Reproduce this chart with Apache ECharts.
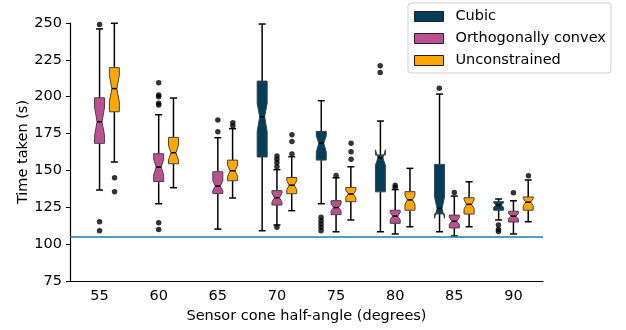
<!DOCTYPE html>
<html>
<head>
<meta charset="utf-8">
<script src="https://cdn.jsdelivr.net/npm/echarts@6/dist/echarts.min.js"></script>
<style>
  html, body { margin: 0; padding: 0; background: #fff; }
  #chart { width: 626px; height: 330px; }
</style>
</head>
<body>
<div id="chart"></div>
<script>
const categories = ['55', '60', '65', '70', '75', '80', '85', '90'];
const yTicks = [75, 100, 125, 150, 175, 200, 225, 250];
const referenceTime = 105;

// [category index, whisker low, q1, notch low, median, notch high, q3, whisker high]
const cubicBoxes = [
  [3, 109.1, 159.1, 176.3, 186.4, 195.5, 210.6, 249.3],
  [4, 127.4, 157.0, 162.5, 168.4, 173.5, 176.5, 197.3],
  [5, 108.4, 135.5, 153.5, 158.5, 164.0, 160.5, 183.5],
  [6, 108.4, 120.5, 117.5, 124.3, 132.0, 154.1, 201.8],
  [7, 116.4, 123.0, 125.0, 126.5, 128.0, 128.8, 130.6]
];
const orthoBoxes = [
  [0, 136.7, 168.4, 173.5, 183.0, 193.0, 199.3, 246.0],
  [1, 127.4, 142.5, 147.0, 152.3, 157.5, 161.3, 187.8],
  [2, 110.2, 134.3, 136.2, 139.4, 143.0, 149.1, 172.2],
  [3, 113.0, 126.5, 128.5, 131.5, 134.5, 136.3, 150.5],
  [4, 108.4, 120.0, 122.5, 124.8, 127.3, 129.5, 145.0],
  [5, 106.9, 114.1, 116.5, 119.0, 121.5, 123.0, 137.0],
  [6, 105.5, 111.0, 113.5, 115.5, 118.0, 119.7, 132.6],
  [7, 106.9, 115.0, 117.0, 119.0, 121.0, 122.3, 129.4]
];
const unconBoxes = [
  [0, 155.7, 189.8, 196.5, 205.5, 214.5, 219.7, 249.8],
  [1, 138.3, 154.5, 157.0, 162.0, 167.0, 172.4, 199.1],
  [2, 131.3, 143.0, 146.0, 149.8, 153.5, 157.0, 178.3],
  [3, 122.7, 134.2, 137.0, 140.0, 143.0, 145.2, 159.3],
  [4, 116.4, 128.8, 131.5, 134.0, 136.5, 138.5, 152.5],
  [5, 111.8, 123.0, 127.0, 130.0, 133.0, 135.6, 151.4],
  [6, 111.8, 120.4, 124.0, 127.0, 130.0, 131.5, 142.3],
  [7, 115.2, 123.0, 126.0, 128.5, 131.0, 132.0, 143.5]
];

// [category index, value]
const cubicOutliers = [
  [4, 118.2], [4, 115.9], [4, 113.6], [4, 111.4], [4, 109.1],
  [5, 221.0], [5, 216.5],
  [6, 205.7],
  [7, 113.0], [7, 110.0], [7, 108.5]
];
const orthoOutliers = [
  [0, 248.9], [0, 115.2], [0, 109.1],
  [1, 209.5], [1, 201.2], [1, 200.0], [1, 195.5], [1, 194.4], [1, 114.5], [1, 110.0],
  [2, 184.2], [2, 176.3],
  [3, 159.8], [3, 157.5], [3, 155.2], [3, 152.5], [3, 111.5],
  [4, 146.5],
  [5, 138.5], [5, 140.0],
  [6, 135.0],
  [7, 134.9]
];
const unconOutliers = [
  [0, 145.0], [0, 135.6],
  [2, 182.4], [2, 180.3],
  [3, 174.2], [3, 169.7], [3, 161.1],
  [4, 168.4], [4, 162.7], [4, 157.5],
  [7, 146.4]
];

const colors = { cubic: '#003f5c', ortho: '#bc5090', uncon: '#ffa600' };

const chart = echarts.init(document.getElementById('chart'));

// notched box, drawn like matplotlib's notch path
function boxRenderer(offset) {
  return function (params, api) {
    const ci = api.value(0);
    const band = api.size([1, 0])[0];
    const x = api.coord([ci, api.value(4)])[0] + offset * band;
    const y = v => api.coord([ci, v])[1];
    const lo = y(api.value(1)), q1 = y(api.value(2)), nlo = y(api.value(3));
    const med = y(api.value(4)), nhi = y(api.value(5)), q3 = y(api.value(6)), hi = y(api.value(7));
    const h = 5, inset = 2.5, cap = 3.5;
    const line = { stroke: '#000', lineWidth: 1.5 };
    return {
      type: 'group',
      children: [
        { type: 'line', shape: { x1: x, y1: q1, x2: x, y2: lo }, style: line },
        { type: 'line', shape: { x1: x, y1: q3, x2: x, y2: hi }, style: line },
        { type: 'line', shape: { x1: x - cap, y1: lo, x2: x + cap, y2: lo }, style: line },
        { type: 'line', shape: { x1: x - cap, y1: hi, x2: x + cap, y2: hi }, style: line },
        {
          type: 'polygon',
          shape: {
            points: [
              [x - h, q1], [x - h, nlo], [x - h + inset, med], [x - h, nhi], [x - h, q3],
              [x + h, q3], [x + h, nhi], [x + h - inset, med], [x + h, nlo], [x + h, q1]
            ]
          },
          style: { fill: api.visual('color'), stroke: '#444', lineWidth: 1 }
        },
        { type: 'line', shape: { x1: x - h + inset, y1: med, x2: x + h - inset, y2: med }, style: line }
      ]
    };
  };
}

function boxSeries(name, data, color, offset) {
  return {
    name: name,
    type: 'custom',
    renderItem: boxRenderer(offset),
    itemStyle: { color: color },
    encode: { x: 0, y: [1, 2, 3, 4, 5, 6, 7] },
    data: data,
    z: 3
  };
}

function outlierSeries(data, offset) {
  return {
    type: 'scatter',
    data: data,
    symbol: 'circle',
    symbolSize: 5.5,
    symbolOffset: [offset, 0],
    itemStyle: { color: '#000' },
    silent: true,
    z: 4
  };
}

const baseFont = { fontFamily: 'DejaVu Sans', color: '#000', fontSize: 14.5 };

const option = {
  animation: false,
  backgroundColor: '#fff',
  textStyle: { fontFamily: 'DejaVu Sans' },
  grid: { left: 70, right: 83, top: 23, bottom: 49 },
  legend: {
    data: ['Cubic', 'Orthogonally convex', 'Unconstrained'],
    orient: 'vertical',
    left: 408,
    top: 3,
    padding: [6, 5, 5, 6],
    itemWidth: 29,
    itemHeight: 10,
    itemGap: 7,
    icon: 'rect',
    itemStyle: { borderColor: '#222', borderWidth: 1 },
    backgroundColor: 'rgba(255,255,255,0.85)',
    borderColor: '#d0d0d0',
    borderWidth: 1,
    borderRadius: 3,
    formatter: name => '{t|' + name + '}',
    textStyle: {
      ...baseFont,
      rich: { t: { ...baseFont, padding: [0, 0, 0, 7] } }
    }
  },
  xAxis: {
    type: 'category',
    data: categories,
    name: 'Sensor cone half-angle (degrees)',
    nameLocation: 'middle',
    nameGap: 27,
    nameTextStyle: baseFont,
    axisLine: { lineStyle: { color: '#000', width: 1.2 } },
    axisTick: { alignWithLabel: true, length: 4, lineStyle: { color: '#000' } },
    axisLabel: { ...baseFont, margin: 8 },
    splitLine: { show: false }
  },
  yAxis: {
    type: 'value',
    min: 75,
    max: 250,
    interval: 25,
    name: 'Time taken (s)',
    nameLocation: 'middle',
    nameGap: 39,
    nameMoveOverlap: false,
    nameTextStyle: baseFont,
    axisLine: { show: true, lineStyle: { color: '#000', width: 1.2 } },
    axisTick: { show: true, length: 4, lineStyle: { color: '#000' } },
    axisLabel: {
      ...baseFont, margin: 8,
      formatter: v => (yTicks.indexOf(v) >= 0 ? String(v) : '')
    },
    splitLine: { show: false }
  },
  series: [
    {
      type: 'line',
      data: [],
      silent: true,
      markLine: {
        silent: true,
        symbol: 'none',
        label: { show: false },
        lineStyle: { color: '#1f77b4', width: 1.5, type: 'solid' },
        data: [{ yAxis: referenceTime }]
      }
    },
    boxSeries('Cubic', cubicBoxes, colors.cubic, -0.25),
    boxSeries('Orthogonally convex', orthoBoxes, colors.ortho, 0),
    boxSeries('Unconstrained', unconBoxes, colors.uncon, 0.25),
    outlierSeries(cubicOutliers, -15),
    outlierSeries(orthoOutliers, 0),
    outlierSeries(unconOutliers, 15)
  ]
};

chart.setOption(option);
</script>
</body>
</html>
